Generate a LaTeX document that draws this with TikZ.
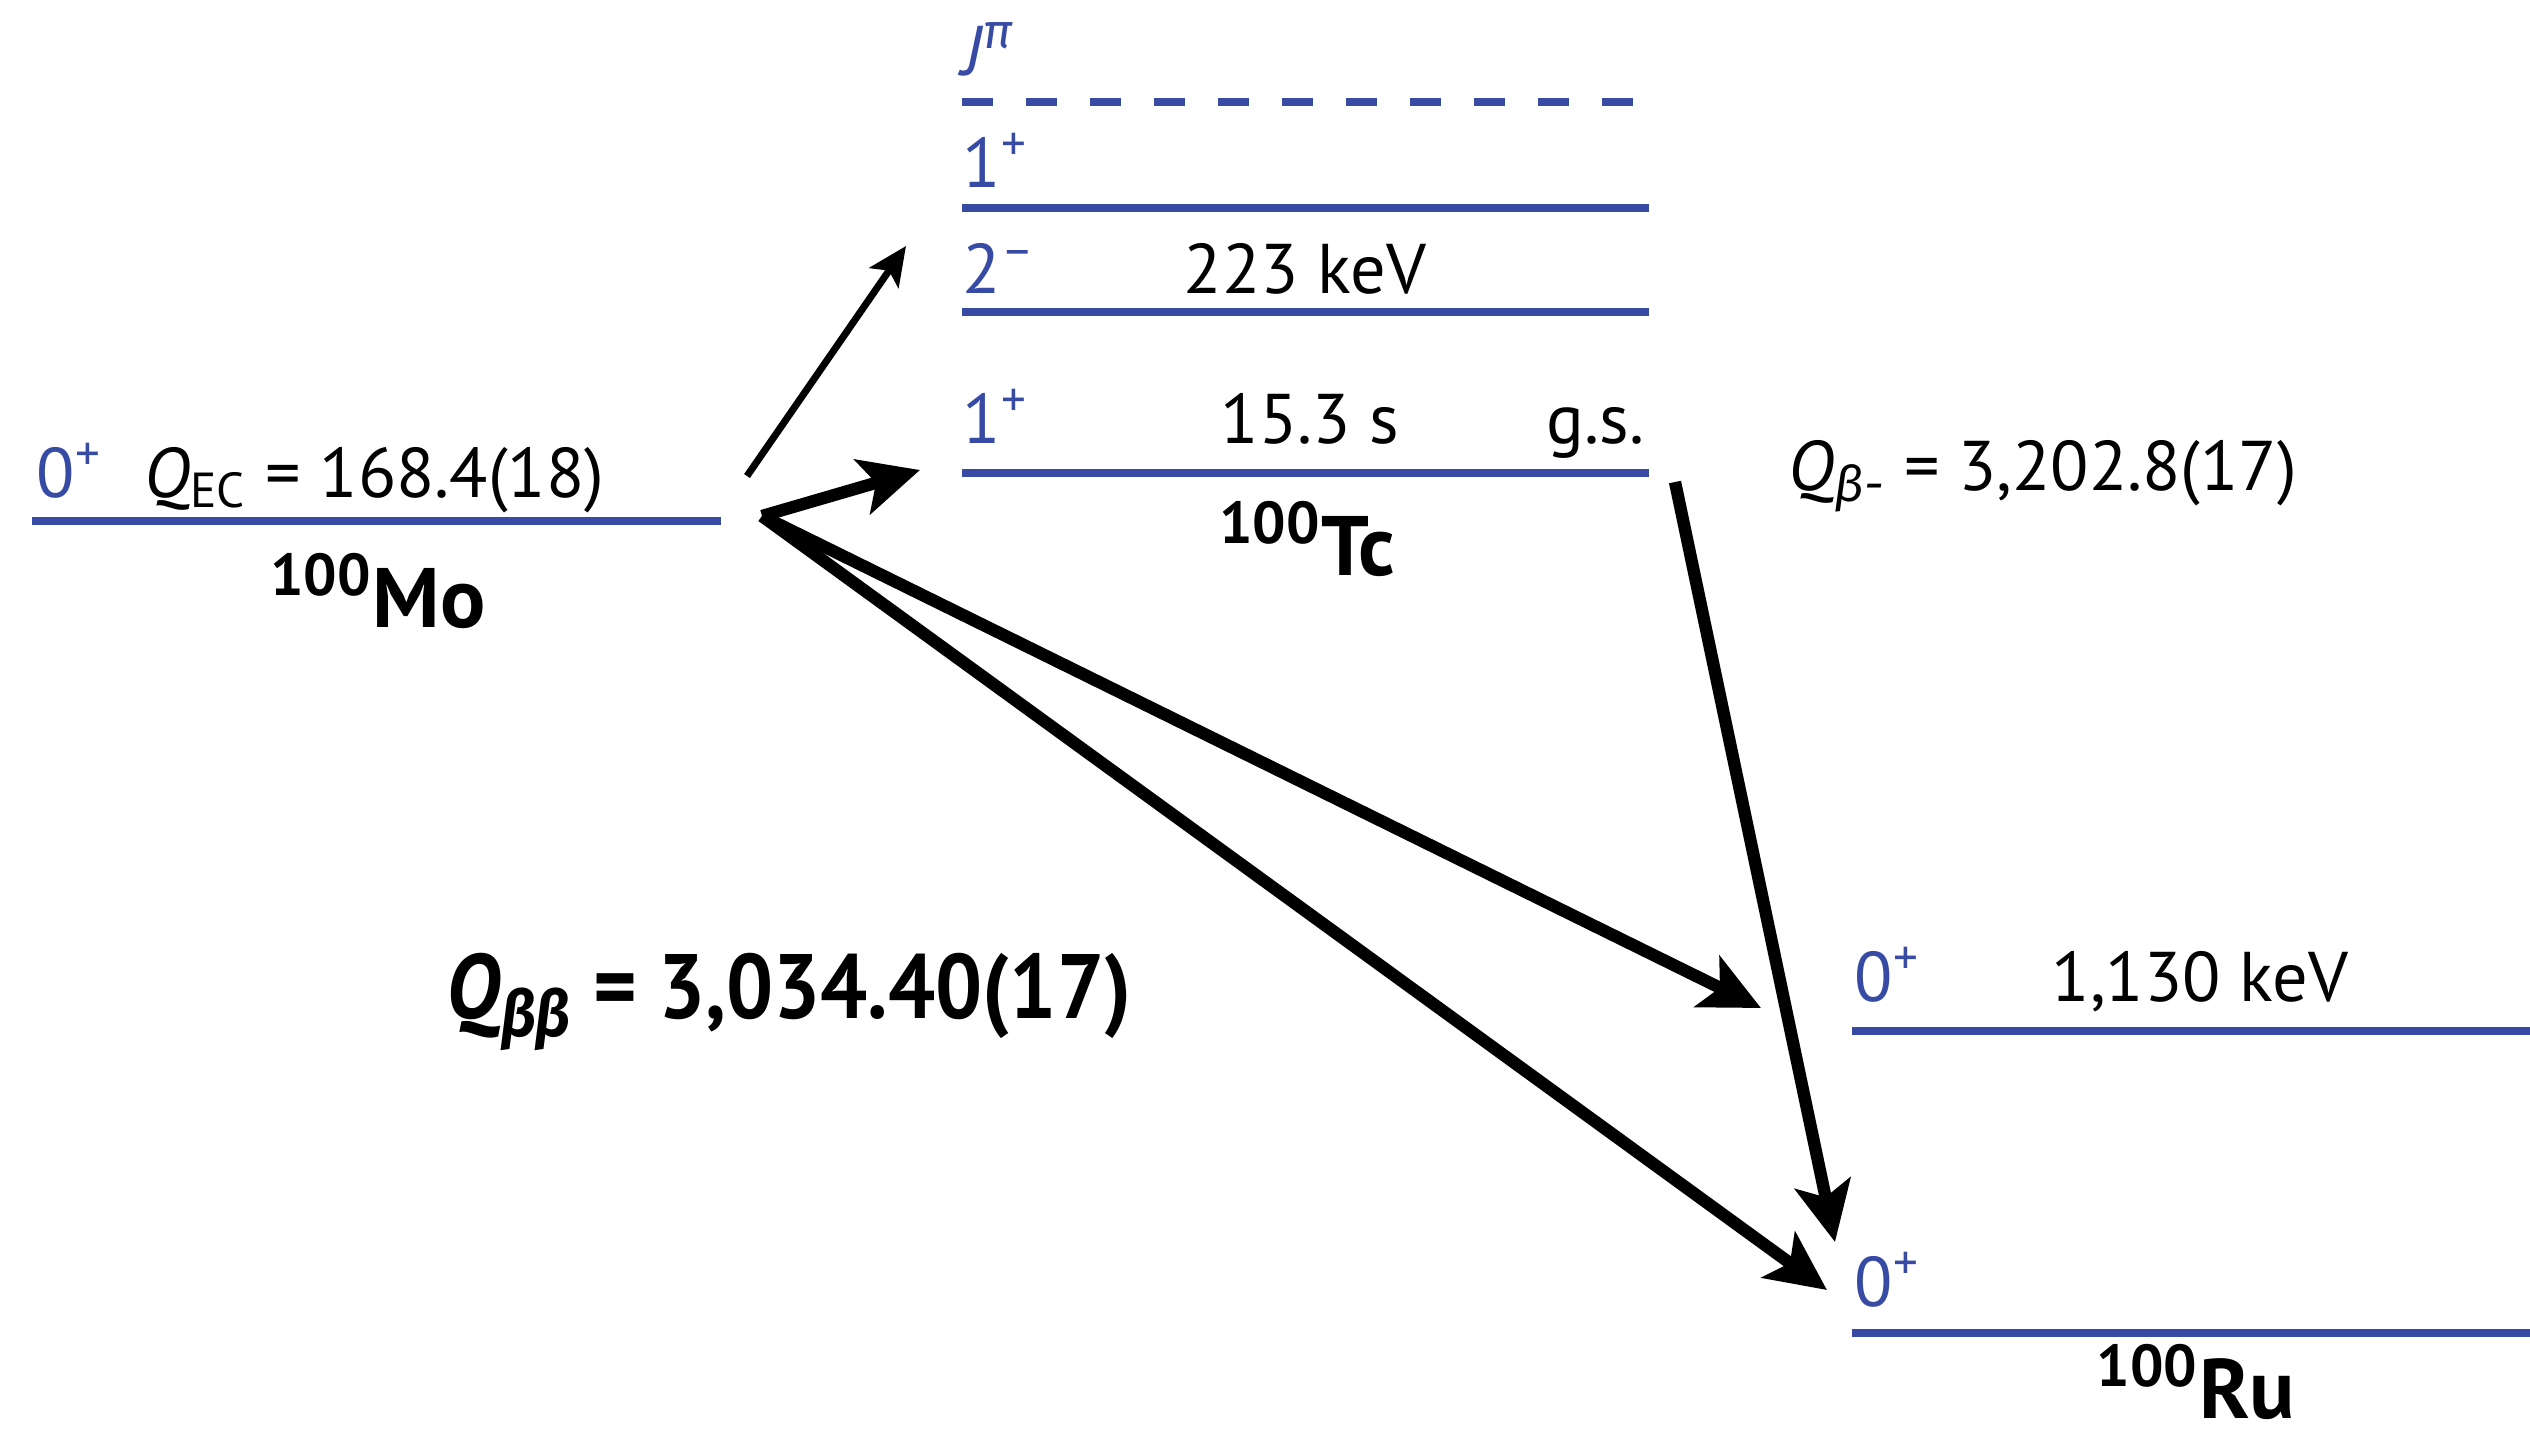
\documentclass[tikz,border=0pt]{standalone}
\usepackage{fontspec}
\usepackage{graphicx}
\setmainfont{PT Sans}
\newfontfamily\grk{Fira Sans}
\usetikzlibrary{arrows.meta}
\definecolor{lvlblue}{RGB}{55,75,165}
\begin{document}
\begin{tikzpicture}[x=0.01cm,y=-0.01cm,
  lvl/.style={draw=lvlblue,line width=2.4pt},
  lvldash/.style={draw=lvlblue,line width=2.4pt,dash pattern=on 0.31cm off 0.33cm},
  spin/.style={text=lvlblue,inner sep=0pt,font=\fontsize{20}{24}\selectfont},
  txt/.style={inner sep=0pt,font=\fontsize{20}{24}\selectfont},
  nuc/.style={inner sep=0pt,font=\fontsize{24}{28}\selectfont\bfseries},
  bigq/.style={inner sep=0pt,font=\fontsize{26}{31}\selectfont\bfseries},
  thickarrow/.style={line width=3.5pt,-{Stealth[length=17pt,width=16pt,inset=4pt]}},
  thinarrow/.style={line width=2pt,-{Stealth[length=11pt,width=10pt,inset=2.5pt]}}
]
\useasboundingbox (0,0) rectangle (2530,1441);

% level end points
\coordinate (mo-l) at (32,521);   \coordinate (mo-r) at (721,521);
\coordinate (tcd-l) at (962,102); \coordinate (tcd-r) at (1640,102);
\coordinate (tc1-l) at (962,208); \coordinate (tc1-r) at (1649,208);
\coordinate (tc2-l) at (962,312); \coordinate (tc2-r) at (1649,312);
\coordinate (tcg-l) at (962,473); \coordinate (tcg-r) at (1649,473);
\coordinate (ru1-l) at (1852,1031); \coordinate (ru1-r) at (2530,1031);
\coordinate (rug-l) at (1852,1333); \coordinate (rug-r) at (2530,1333);

% levels
\draw[lvldash] (tcd-l) -- (tcd-r);
\draw[lvl] (mo-l) -- (mo-r);
\draw[lvl] (tc1-l) -- (tc1-r);
\draw[lvl] (tc2-l) -- (tc2-r);
\draw[lvl] (tcg-l) -- (tcg-r);
\draw[lvl] (ru1-l) -- (ru1-r);
\draw[lvl] (rug-l) -- (rug-r);

% texts
\node[spin,anchor=base west] (mo-spin) at (36,497) {0\textsuperscript{+}};
\node[txt,anchor=base west] (qec) at (144,497) {\textit{Q}\textsubscript{EC} = 168.4(18)};
\node[nuc,anchor=base] (mo-name) at (378,627) {\textsuperscript{100}Mo};

\node[spin,anchor=base west] (tc-j) at (962,75) {\textit{J}\textsuperscript{\grk\itshape π}};
\node[spin,anchor=base west] (tc1-spin) at (962,187) {1\textsuperscript{+}};
\node[spin,anchor=base west] (tc2-spin) at (962,293) {2\textsuperscript{–}};
\node[txt,anchor=base] (tc2-e) at (1305,293) {223 keV};
\node[spin,anchor=base west] (tcg-spin) at (962,443) {1\textsuperscript{+}};
\node[txt,anchor=base] (tcg-t) at (1310,443) {15.3 s};
\node[txt,anchor=base east] (tcg-gs) at (1645,443) {g.s.};
\node[nuc,anchor=base] (tc-name) at (1307,575) {\textsuperscript{100}Tc};

\node[txt,anchor=base west] (qbm) at (1788,490) {\textit{Q}\textsubscript{\grk\itshape β-} = 3,202.8(17)};

\node[spin,anchor=base west] (ru1-spin) at (1854,1001) {0\textsuperscript{+}};
\node[txt,anchor=base] (ru1-e) at (2200,1001) {1,130 keV};
\node[spin,anchor=base west] (rug-spin) at (1854,1306) {0\textsuperscript{+}};
\node[nuc,anchor=base] (ru-name) at (2196,1418) {\textsuperscript{100}Ru};

\node[bigq,anchor=base west] (qbb) at (446,1018) {\scalebox{0.91}[1]{\textit{Q}\textsubscript{\grk\itshape\bfseries ββ} = 3,034.40(17)}};

% arrows
\coordinate (thin-s) at (747,476);
\coordinate (thin-e) at (906,246);
\coordinate (v) at (762,516);
\coordinate (tcg-in) at (920,470);
\coordinate (ru1-in) at (1761,1008);
\coordinate (rug-in) at (1827,1290);
\coordinate (tc-out) at (1675,482);
\coordinate (rug-in2) at (1835,1242);

\draw[thinarrow] (thin-s) -- (thin-e);
\draw[thickarrow] (v) -- (tcg-in);
\draw[thickarrow] (v) -- (ru1-in);
\draw[thickarrow] (v) -- (rug-in);
\draw[thickarrow] (tc-out) -- (rug-in2);
\end{tikzpicture}
\end{document}
